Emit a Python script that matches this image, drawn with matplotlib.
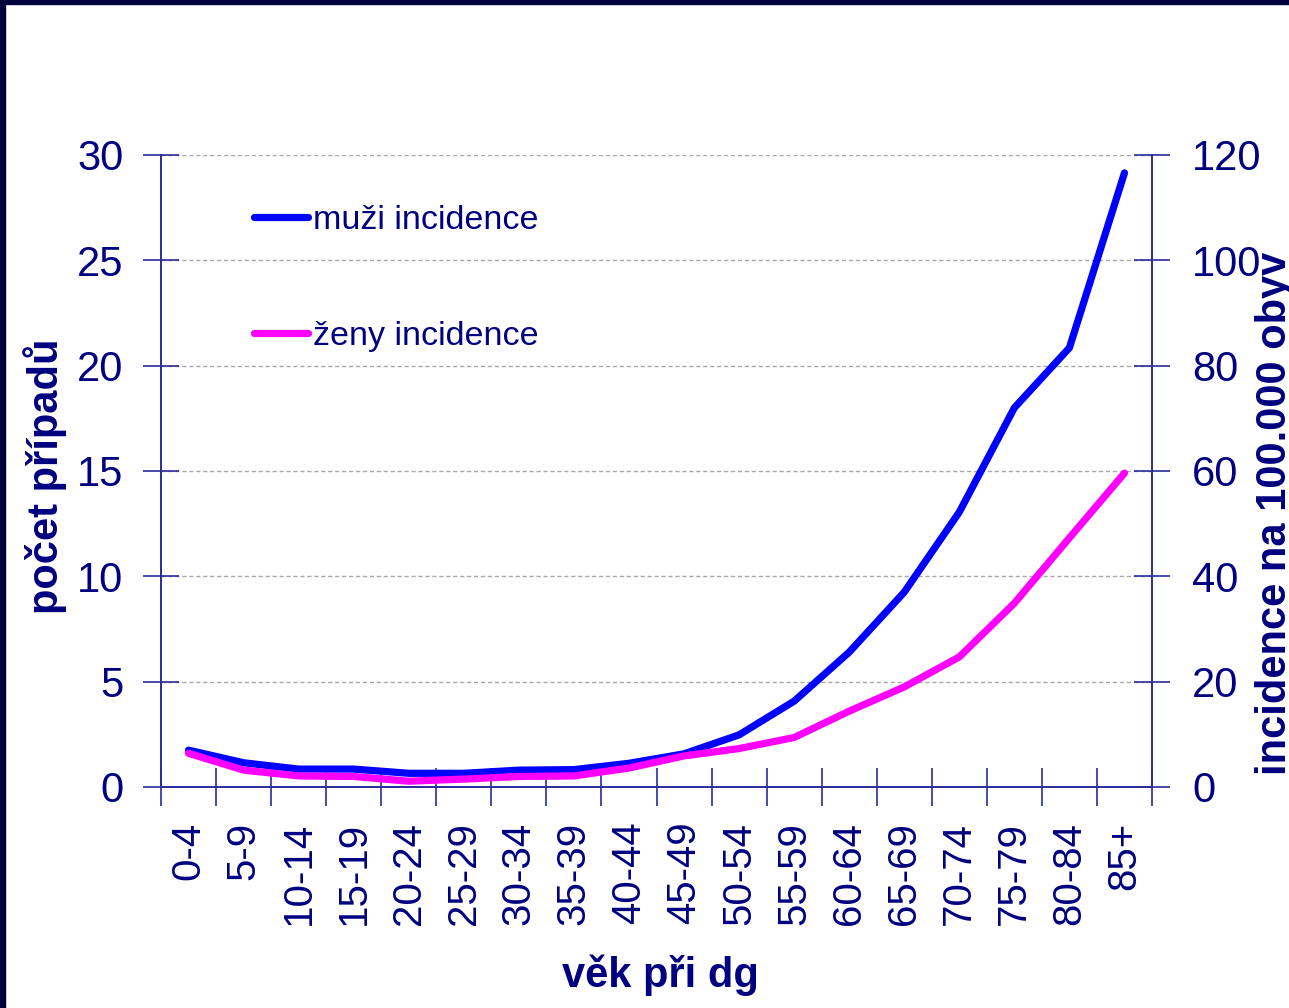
import matplotlib
matplotlib.use("Agg")
import matplotlib.pyplot as plt
from matplotlib.patches import Rectangle
import numpy as np

categories = ["0-4", "5-9", "10-14", "15-19", "20-24", "25-29", "30-34", "35-39",
              "40-44", "45-49", "50-54", "55-59", "60-64", "65-69", "70-74",
              "75-79", "80-84", "85+"]
muzi_incidence = [7.0, 4.6, 3.4, 3.4, 2.6, 2.6, 3.2, 3.3, 4.5, 6.3, 9.9, 16.3,
                  25.6, 37.0, 52.2, 72.0, 83.4, 116.6]
zeny_incidence = [6.4, 3.2, 2.1, 2.0, 1.1, 1.5, 2.0, 2.1, 3.6, 5.9, 7.3, 9.4,
                  14.4, 19.0, 24.7, 34.9, 47.3, 59.6]
left_ticks = [0, 5, 10, 15, 20, 25, 30]
right_ticks = [0, 20, 40, 60, 80, 100, 120]

plt.rcParams['font.family'] = ['Liberation Sans', 'DejaVu Sans']
NAVY = '#000080'
AXC = '#2b2b9a'

fig = plt.figure(figsize=(12.89, 10.08), dpi=100)
fig.patch.set_facecolor('white')
# dark frame at top and left
fig.patches.append(Rectangle((0, 1 - 4/1008), 1, 4/1008, transform=fig.transFigure,
                             color='#00003c', zorder=10))
fig.patches.append(Rectangle((0, 0), 5/1289, 1, transform=fig.transFigure,
                             color='#00003c', zorder=10))

ax = fig.add_axes([161/1289, 1 - 787/1008, (1152-161)/1289, (787-155)/1008])
ax2 = ax.twinx()

n = len(categories)
x = np.arange(n)
ax.set_xlim(-0.5, n - 0.5)
ax.set_ylim(0, 30)
ax2.set_ylim(0, 120)

ax.set_yticks(left_ticks)
ax2.set_yticks(right_ticks)
ax.yaxis.grid(True, color='#a8a8a8', linestyle=(0, (3, 2)), linewidth=1)
ax.set_axisbelow(True)

ax2.plot(x, muzi_incidence, color='#0000ff', lw=5.2, solid_capstyle='round',
         solid_joinstyle='round', label='muži incidence', zorder=3)
ax2.plot(x, zeny_incidence, color='#ff00ff', lw=5.2, solid_capstyle='round',
         solid_joinstyle='round', label='ženy incidence', zorder=4)

# x ticks at category boundaries, labels at centers
ax.set_xticks(np.arange(n + 1) - 0.5)
ax.set_xticklabels([])
ax.set_xticks(x, minor=True)
ax.set_xticklabels(categories, minor=True, rotation=90, fontsize=29, color=NAVY,
                   ha='center', va='top')
ax.tick_params(axis='x', which='minor', length=0, pad=25)
ax.tick_params(axis='x', which='major', direction='inout', length=27, width=1.2, color=AXC)
ax.tick_params(axis='y', direction='inout', length=26, width=1.2, color=AXC,
               labelsize=30, labelcolor=NAVY, pad=14)
ax2.tick_params(axis='y', direction='inout', length=26, width=1.2, color=AXC,
                labelsize=30, labelcolor=NAVY, pad=16)

for a in (ax, ax2):
    a.spines['top'].set_visible(False)
    for s in ('left', 'right', 'bottom'):
        a.spines[s].set_color(AXC)
        a.spines[s].set_linewidth(1.2)

leg = ax2.legend(loc='upper left', bbox_to_anchor=(0.08, 0.942), frameon=False,
                 fontsize=24.5, handlelength=1.6, handletextpad=0.15,
                 labelspacing=2.48, borderaxespad=0)
for t in leg.get_texts():
    t.set_color(NAVY)

fig.text(45/1289, 1 - 476/1008, 'počet případů', rotation=90, ha='center', va='center',
         fontsize=30, fontweight='bold', color=NAVY)
fig.text(1275/1289, 1 - 775/1008, 'incidence na 100.000 obyv', rotation=90,
         ha='center', va='bottom', fontsize=30, fontweight='bold', color=NAVY)
fig.text(660/1289, 1 - 975/1008, 'věk při dg', ha='center', va='center',
         fontsize=30, fontweight='bold', color=NAVY)

fig.savefig('out.png', dpi=100)
